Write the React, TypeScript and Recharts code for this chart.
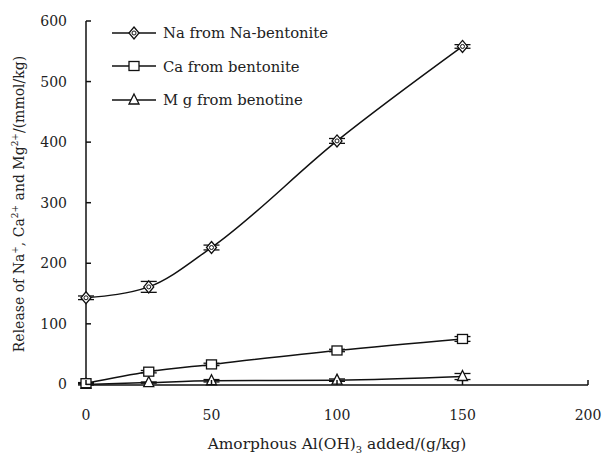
import React from 'react'
import { LineChart, Line, XAxis, YAxis, ErrorBar } from 'recharts'

// x values: amorphous Al(OH)3 added (g/kg)
const doses = [0, 25, 50, 100, 150]
const naValues = [143, 161, 226, 402, 558]
const naErrors = [3, 9, 4, 4, 3]
const caValues = [2, 21, 33, 56, 75]
const caErrors = [1, 2, 2, 2, 4]
const mgValues = [0, 3, 6, 7, 13]
const mgErrors = [1, 1, 2, 2, 5]
const xTicks = [0, 50, 100, 150, 200]
const yTicks = [0, 100, 200, 300, 400, 500, 600]

const seriesNames = ['Na from Na-bentonite', 'Ca from bentonite', 'M g from benotine']
const shapes = ['diamond', 'square', 'triangle']

const data = doses.map((d, i) => ({
  dose: d,
  na: naValues[i], naErr: naErrors[i],
  ca: caValues[i], caErr: caErrors[i],
  mg: mgValues[i], mgErr: mgErrors[i],
}))

const FONT = 'DejaVu Serif'
const INK = '#111'

function Marker({ cx, cy, shape }: { cx: number; cy: number; shape: string }) {
  const s = 5
  if (shape === 'diamond') {
    return (
      <g>
        <polygon points={`${cx},${cy - s - 1} ${cx + s},${cy} ${cx},${cy + s + 1} ${cx - s},${cy}`} fill="#fff" stroke={INK} strokeWidth={1.3} />
        <circle cx={cx} cy={cy} r={2} fill="none" stroke={INK} strokeWidth={1} />
      </g>
    )
  }
  if (shape === 'square') {
    return <rect x={cx - s} y={cy - s + 0.5} width={2 * s} height={2 * s - 1} fill="#fff" stroke={INK} strokeWidth={1.3} />
  }
  return <polygon points={`${cx},${cy - s - 1} ${cx + s},${cy + s - 1} ${cx - s},${cy + s - 1}`} fill="#fff" stroke={INK} strokeWidth={1.3} />
}

const makeDot = (shape: string) => (props: any) => (
  <Marker key={`${shape}-${props.index}`} cx={props.cx} cy={props.cy} shape={shape} />
)

// ticks point into the plot, so draw them by hand
function XTick({ x, y, payload }: any) {
  return (
    <g>
      <line x1={x} y1={y} x2={x} y2={y - 5} stroke={INK} strokeWidth={1.5} />
      <text x={x} y={y + 35} textAnchor="middle" fontFamily={FONT} fontSize={14} fill="#222">{payload.value}</text>
    </g>
  )
}

function YTick({ x, y, payload }: any) {
  return (
    <g>
      <line x1={x} y1={y} x2={x + 5} y2={y} stroke={INK} strokeWidth={1.5} />
      <text x={x - 19} y={y + 5} textAnchor="end" fontFamily={FONT} fontSize={14} fill="#222">{payload.value}</text>
    </g>
  )
}

function LegendBox() {
  return (
    <div style={{ position: 'absolute', left: 111, top: 16, fontFamily: FONT, fontSize: 14.8, color: '#222' }}>
      {seriesNames.map((name, i) => (
        <div key={name} style={{ display: 'flex', alignItems: 'center', height: 33.5 }}>
          <svg width={46} height={16} style={{ marginRight: 6 }}>
            <line x1={1} y1={8} x2={45} y2={8} stroke={INK} strokeWidth={1.5} />
            <Marker cx={23} cy={8} shape={shapes[i]} />
          </svg>
          <span>{name}</span>
        </div>
      ))}
    </div>
  )
}

function YTitle() {
  return (
    <text transform="translate(24,204) rotate(-90)" textAnchor="middle" fontFamily={FONT} fontSize={14} fill="#222">
      Release of Na<tspan fontSize={9} dy={-6}>+</tspan>
      <tspan dy={6}>, Ca</tspan>
      <tspan fontSize={9} dy={-6}>2+</tspan>
      <tspan dy={6}> and Mg</tspan>
      <tspan fontSize={9} dy={-6}>2+</tspan>
      <tspan dy={6}>/(mmol/kg)</tspan>
    </text>
  )
}

function XTitle() {
  return (
    <text x={337} y={449} textAnchor="middle" fontFamily={FONT} fontSize={15.4} fill="#222">
      Amorphous Al(OH)<tspan fontSize={10} dy={4}>3</tspan>
      <tspan dy={-4}> added/(g/kg)</tspan>
    </text>
  )
}

export default function App() {
  return (
    <div style={{ position: 'absolute', left: 0, top: 0, width: 605, height: 460, background: '#fff' }}>
      <LineChart width={605} height={460} data={data} margin={{ top: 21, right: 17, left: 0, bottom: 0 }}>
        <XAxis
          dataKey="dose"
          type="number"
          domain={[0, 200]}
          ticks={xTicks}
          height={75}
          tickSize={0}
          tickMargin={0}
          tick={<XTick />}
          tickLine={false}
          axisLine={{ stroke: INK, strokeWidth: 1.5 }}
        />
        <YAxis
          type="number"
          domain={[0, 600]}
          ticks={yTicks}
          width={86}
          tickSize={0}
          tickMargin={0}
          tick={<YTick />}
          tickLine={false}
          axisLine={{ stroke: INK, strokeWidth: 1.5 }}
        />
        <Line type="monotone" dataKey="mg" stroke={INK} strokeWidth={1.5} dot={makeDot('triangle')} isAnimationActive={false}>
          <ErrorBar dataKey="mgErr" width={8} stroke={INK} strokeWidth={1.3} isAnimationActive={false} />
        </Line>
        <Line type="monotone" dataKey="ca" stroke={INK} strokeWidth={1.5} dot={makeDot('square')} isAnimationActive={false}>
          <ErrorBar dataKey="caErr" width={8} stroke={INK} strokeWidth={1.3} isAnimationActive={false} />
        </Line>
        <Line type="monotone" dataKey="na" stroke={INK} strokeWidth={1.5} dot={makeDot('diamond')} isAnimationActive={false}>
          <ErrorBar dataKey="naErr" width={8} stroke={INK} strokeWidth={1.3} isAnimationActive={false} />
        </Line>
        <YTitle />
        <XTitle />
      </LineChart>
      <LegendBox />
    </div>
  )
}
